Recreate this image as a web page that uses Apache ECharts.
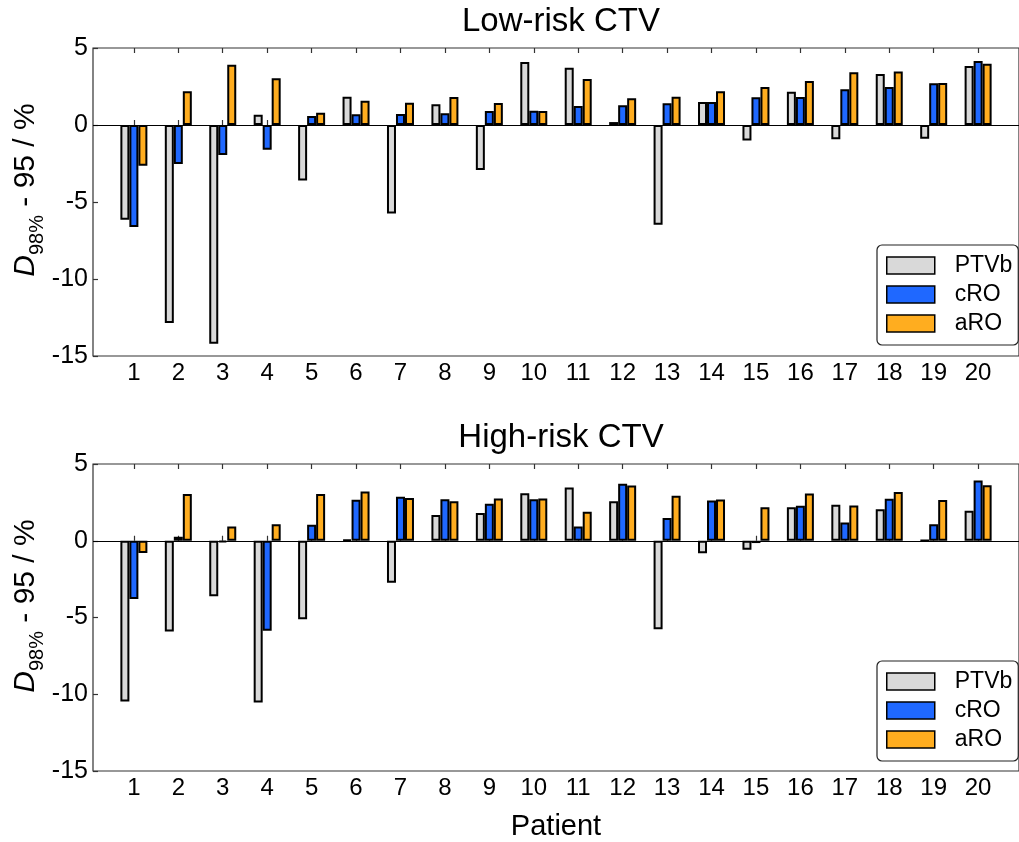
<!DOCTYPE html>
<html>
<head>
<meta charset="utf-8">
<script src="https://cdn.jsdelivr.net/npm/echarts@6/dist/echarts.min.js"></script>
<style>html,body{margin:0;padding:0;background:#fff;}#chart{width:1019px;height:842px;}</style>
</head>
<body>
<div id="chart"></div>
<script>
const patients = [1,2,3,4,5,6,7,8,9,10,11,12,13,14,15,16,17,18,19,20];
const seriesNames = ['PTVb','cRO','aRO'];
const titles = ['Low-risk CTV','High-risk CTV'];
const yTicks = [-15,-10,-5,0,5];

const lowPTVb = [-6.15,-12.86,-14.2,0.67,-3.6,1.84,-5.74,1.34,-2.92,4.09,3.72,0.19,-6.47,1.49,-1.0,2.16,-0.93,3.31,-0.89,3.83];
const lowCRO  = [-6.62,-2.53,-1.95,-1.6,0.58,0.69,0.71,0.76,0.91,0.93,1.23,1.28,1.41,1.49,1.80,1.82,2.32,2.47,2.71,4.16];
const lowARO  = [-2.64,2.19,3.92,3.03,0.8,1.58,1.45,1.82,1.43,0.91,2.99,1.73,1.84,2.19,2.47,2.86,3.42,3.48,2.73,3.98];

const highPTVb = [-10.48,-5.92,-3.62,-10.54,-5.12,0.07,-2.73,1.67,1.8,3.1,3.47,2.58,-5.77,-0.82,-0.59,2.19,2.34,2.06,0.02,1.95];
const highCRO  = [-3.8,0.26,-0.11,-5.86,1.04,2.67,2.86,2.71,2.41,2.71,0.93,3.71,1.48,2.62,-0.15,2.28,1.19,2.73,1.08,3.93];
const highARO  = [-0.8,3.04,0.93,1.08,3.04,3.21,2.78,2.58,2.75,2.75,1.89,3.6,2.93,2.69,2.19,3.08,2.3,3.17,2.65,3.62];

const colors = ['#d9d9d9','#1f68ff','#ffad1f'];
const FONT = 'Liberation Sans, Arial, sans-serif';
const panels = [[lowPTVb, lowCRO, lowARO],[highPTVb, highCRO, highARO]];
const gridTops = [48, 464];
const PH = 308;

const chart = echarts.init(document.getElementById('chart'));

const grids = [], xAxes = [], yAxes = [], series = [], legends = [], titleArr = [], graphics = [];
gridTops.forEach((top, g) => {
  grids.push({left: 93, top: top, right: -9, height: PH, show: true, borderColor: '#333', borderWidth: 1.2, backgroundColor: 'transparent', containLabel: false});
  const common = {type: 'value', gridIndex: g, min: 0.08, max: 20.92, splitLine: {show: false}, axisLine: {show: false}};
  xAxes.push(Object.assign({}, common, {
    position: 'bottom',
    axisTick: {show: true, inside: true, length: 5, lineStyle: {color: '#333', width: 1.2}, customValues: patients},
    axisLabel: {show: true, customValues: patients, fontSize: 24, color: '#000', fontFamily: FONT, margin: 5},
    name: g === 1 ? 'Patient' : '', nameLocation: 'middle', nameGap: 41,
    nameTextStyle: {fontSize: 29, color: '#000', fontFamily: FONT}
  }));
  xAxes.push(Object.assign({}, common, {
    position: 'top',
    axisTick: {show: true, inside: true, length: 5, lineStyle: {color: '#333', width: 1.2}, customValues: patients},
    axisLabel: {show: false}
  }));
  yAxes.push({
    type: 'value', gridIndex: g, min: -15, max: 5, interval: 5,
    splitLine: {show: false}, axisLine: {show: false},
    axisTick: {show: true, inside: true, length: 5, lineStyle: {color: '#333', width: 1.2}},
    axisLabel: {fontSize: 25, color: '#000', fontFamily: FONT, margin: 5}
  });
  panels[g].forEach((vals, s) => {
    const ser = {
      type: 'bar', name: seriesNames[s], xAxisIndex: g * 2, yAxisIndex: g,
      data: patients.map((p, i) => [p, vals[i]]),
      barWidth: 9, barGap: '0%',
      itemStyle: {color: colors[s], borderColor: '#000', borderWidth: 2},
      emphasis: {disabled: true}
    };
    if (s === 0) {
      ser.markLine = {silent: true, symbol: 'none', label: {show: false},
        lineStyle: {color: '#000', width: 1.2, type: 'solid'}, data: [{yAxis: 0}], animation: false};
    }
    series.push(ser);
  });
  legends.push({
    orient: 'vertical', left: 877, top: top + 197, data: seriesNames,
    icon: 'rect',
    itemWidth: 48, itemHeight: 17, itemGap: 6,
    padding: [9, 6, 10, 9],
    borderColor: '#222', borderWidth: 1.2, borderRadius: 5, backgroundColor: '#fff',
    textStyle: {fontSize: 23, color: '#000', fontFamily: FONT, padding: [0, 0, 0, 15]},
    itemStyle: {borderColor: '#000', borderWidth: 1.5},
    selectedMode: false
  });
  titleArr.push({
    text: titles[g], left: 561, textAlign: 'center', top: top - 43, padding: 0,
    textStyle: {fontSize: 33, fontWeight: 'normal', color: '#000', fontFamily: FONT}
  });
  graphics.push({
    type: 'text', x: 26, y: top + 142, rotation: Math.PI / 2, silent: true,
    style: {
      text: '{i|D}{s|98%}{n| - 95 / %}',
      align: 'center', verticalAlign: 'middle',
      fill: '#000',
      rich: {
        i: {fontSize: 30, fontStyle: 'italic', fontFamily: FONT, lineHeight: 42, fill: '#000'},
        s: {fontSize: 20, fontFamily: FONT, lineHeight: 14, verticalAlign: 'bottom', fill: '#000'},
        n: {fontSize: 30, fontFamily: FONT, lineHeight: 42, fill: '#000'}
      }
    }
  });
});

chart.setOption({
  animation: false,
  backgroundColor: '#fff',
  title: titleArr,
  grid: grids,
  xAxis: xAxes,
  yAxis: yAxes,
  legend: legends,
  series: series,
  graphic: graphics
});
</script>
</body>
</html>
